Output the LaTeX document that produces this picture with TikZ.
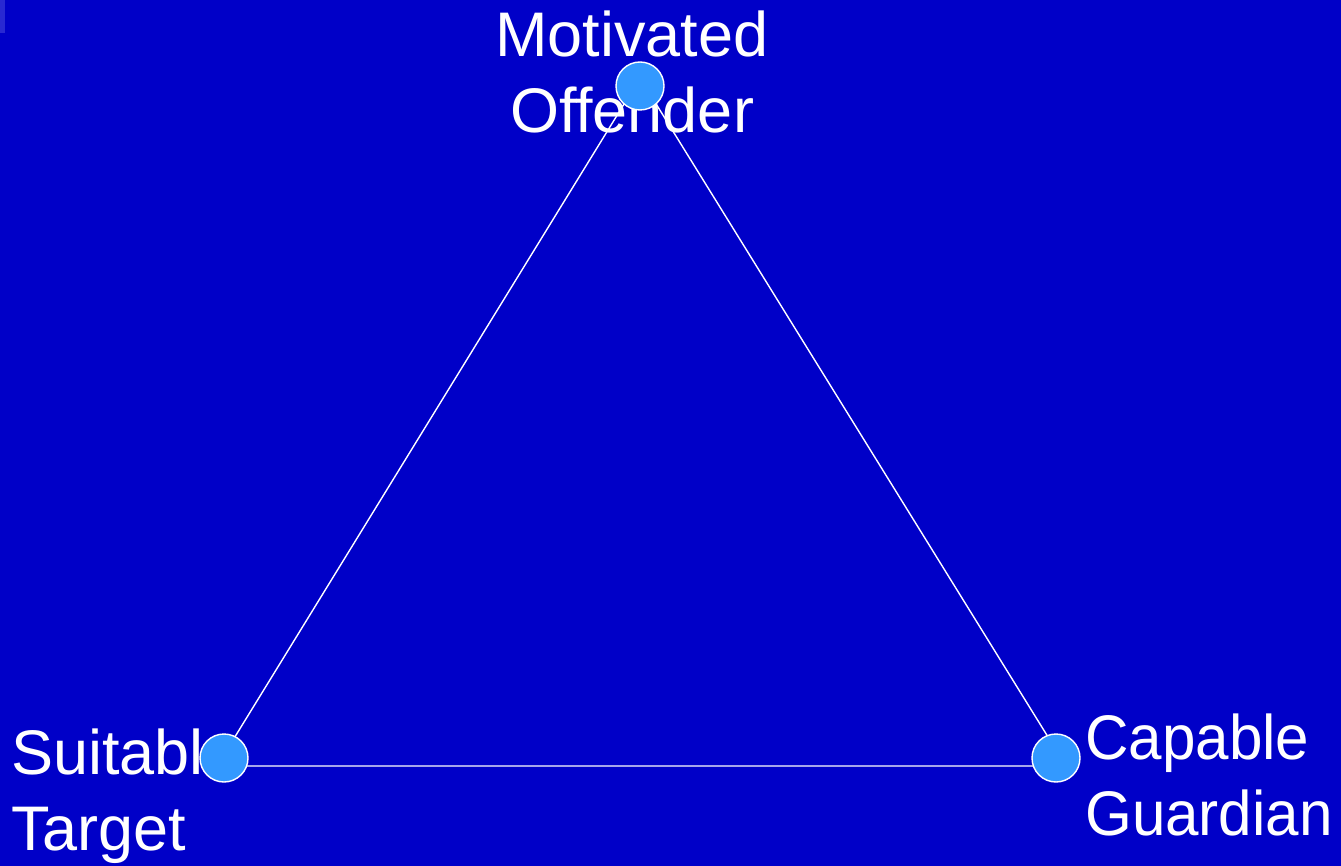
\documentclass[tikz,border=0pt]{standalone}
\usepackage{fontspec}
\setmainfont{Liberation Sans}
\newfontfamily\narrowsans[FakeStretch=0.955]{Liberation Sans}
\definecolor{bgblue}{RGB}{0,0,200}
\definecolor{dotblue}{RGB}{51,153,255}
\definecolor{strip}{RGB}{40,40,210}
\tikzset{
  edge/.style={draw=white, line width=1.4pt},
  dot/.style={circle, draw=white, line width=1.4pt, fill=dotblue, minimum size=48pt, inner sep=0pt},
  lbl/.style={text=white, inner sep=0pt, font=\fontsize{63}{76}\selectfont}
}
\begin{document}
\begin{tikzpicture}[x=1pt, y=-1pt]
\fill[bgblue] (0,0) rectangle (1341,866);
\useasboundingbox (0,0) rectangle (1341,866);
\fill[strip] (0,0) rectangle (5,33);
% labels
\node[lbl, anchor=north, align=center] (mo) at (632,11) {Motivated\\Offender};
\node[lbl, anchor=north west, align=left] (st) at (11,729) {Suitable\\Target};
\node[lbl, anchor=north west, align=left, font=\narrowsans\fontsize{63}{76}\selectfont] (cg) at (1085,714) {Capable\\Guardian};
% triangle vertices
\coordinate (vt) at (640,78);
\coordinate (vl) at (217,766);
\coordinate (vr) at (1066,766);
\draw[edge] (vl) -- (vt) -- (vr) -- (vl);
% dots
\node[dot] (top) at (640,86) {};
\node[dot] (left) at (224,758) {};
\node[dot] (right) at (1056,758) {};
\end{tikzpicture}
\end{document}
